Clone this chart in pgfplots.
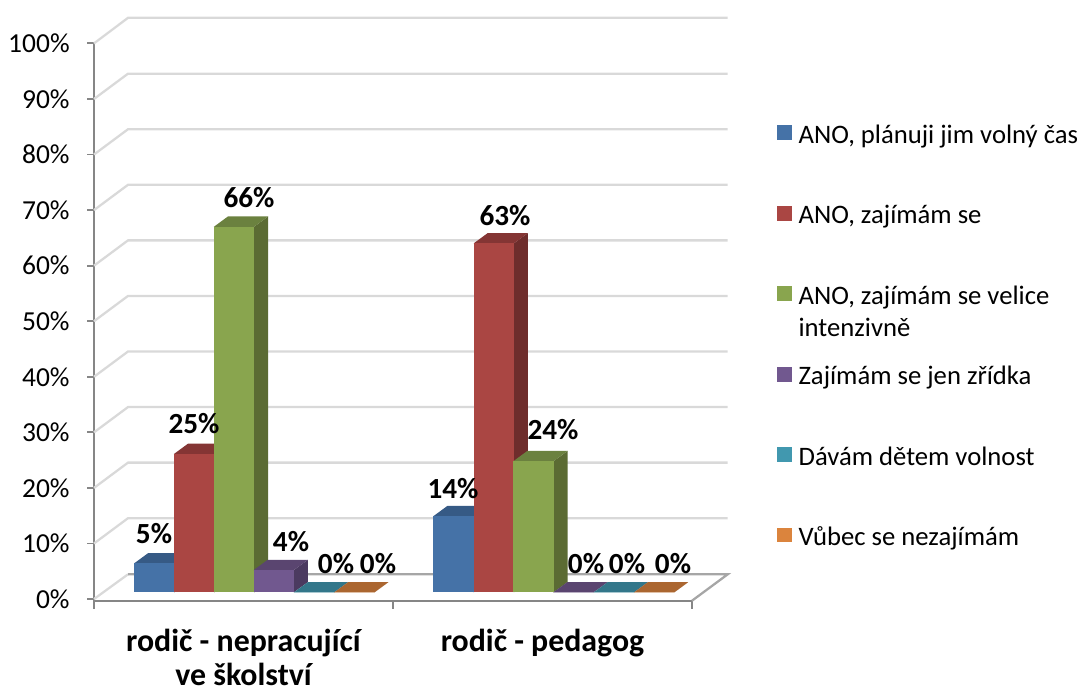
\documentclass[border=0pt]{standalone}
\usepackage{pgfplots}
\pgfplotsset{compat=1.18}
\usepackage{fontspec}
\setmainfont{Carlito}
\definecolor{axisgray}{HTML}{868686}
\definecolor{floorgray}{HTML}{A6A6A6}
\definecolor{gridgray}{HTML}{D9D9D9}
\definecolor{bluef}{HTML}{4572A7}\definecolor{bluet}{HTML}{365A85}\definecolor{blues}{HTML}{2F4E73}
\definecolor{redf}{HTML}{AA4643}\definecolor{redt}{HTML}{843534}\definecolor{reds}{HTML}{6E2D2C}
\definecolor{greenf}{HTML}{89A54E}\definecolor{greent}{HTML}{6B813F}\definecolor{greens}{HTML}{5B6B33}
\definecolor{purplef}{HTML}{71588F}\definecolor{purplet}{HTML}{5A4570}\definecolor{purples}{HTML}{4B3A60}
\definecolor{tealf}{HTML}{4198AF}\definecolor{tealt}{HTML}{33778A}\definecolor{teals}{HTML}{2A6272}
\definecolor{orangef}{HTML}{DB843D}\definecolor{oranget}{HTML}{AB6630}\definecolor{oranges}{HTML}{8E5528}
% one 3-D column: left edge (px-scale x), value (percent), colour stem
\newcommand{\column}[3]{%
  \pgfmathsetmacro{\xa}{#1}\pgfmathsetmacro{\xb}{#1+40.2}%
  \pgfmathsetmacro{\xc}{#1+54.2}\pgfmathsetmacro{\xd}{#1+14}%
  \pgfmathsetmacro{\yb}{1.2}\pgfmathsetmacro{\yt}{1.2+#2}%
  \pgfmathsetmacro{\ybb}{1.2+1.85}\pgfmathsetmacro{\ytb}{1.2+#2+1.85}%
  \edef\temp{\noexpand\addplot[fill=#3s,draw=none,forget plot] coordinates {(\xb,\yb) (\xc,\ybb) (\xc,\ytb) (\xb,\yt)} --cycle;
    \noexpand\addplot[fill=#3t,draw=none,forget plot] coordinates {(\xa,\yt) (\xb,\yt) (\xc,\ytb) (\xd,\ytb)} --cycle;
    \noexpand\addplot[fill=#3f,draw=none,forget plot] coordinates {(\xa,\yb) (\xb,\yb) (\xb,\yt) (\xa,\yt)} --cycle;}%
  \temp}
\newcommand{\gridlevel}[2]{\addplot[gridgray,line width=1.7pt,forget plot] coordinates {(94,#1) (128,#2) (727.7,#2)};}
\tikzset{dl/.style={font=\fontsize{21.9pt}{24pt}\selectfont\bfseries,inner sep=0pt}}
\begin{document}
\begin{tikzpicture}
\path[use as bounding box] (0,0) rectangle (810pt,517.5pt);
\begin{axis}[
  at={(70.5pt,66.975pt)}, anchor=south west,
  scale only axis, width=448.5pt, height=417.975pt,
  xmin=94, xmax=692, ymin=-0.3, ymax=100, clip=false,
  axis x line*=bottom, axis y line*=left,
  axis line style={axisgray,line width=1.8pt,-},
  tick align=outside,
  ytick={0,10,...,100},
  yticklabels={0\%,10\%,20\%,30\%,40\%,50\%,60\%,70\%,80\%,90\%,100\%},
  yticklabel style={font=\fontsize{20.6pt}{22pt}\selectfont,xshift=-9.5pt},
  major y tick style={axisgray,line width=1.4pt},
  major tick length=5.25pt,
  xtick={243.5,542.5},
  xticklabels={{rodič - nepracující\\ve školství},{rodič - pedagog}},
  xticklabel style={font=\fontsize{23.9pt}{25.4pt}\selectfont\bfseries,align=center,yshift=-12.8pt},
  major x tick style={draw=none},
  minor xtick={94,393,692},
  minor tick length=6pt,
  minor x tick style={axisgray,line width=1.4pt},
  legend style={at={(axis cs:777,86.2)},anchor=north west,draw=none,fill=none,inner sep=0pt,
    font=\fontsize{20pt}{24.5pt}\selectfont,
    row sep=41.7pt,
    nodes={inner sep=0pt},
    /tikz/every odd column/.append style={column sep=5pt}},
  legend cell align=left,
  legend image code/.code={\fill[#1] (0,-5.5pt) rectangle (11pt,5.5pt);},
]
\addlegendimage{fill=bluef,draw=none}\addlegendentry{\strut ANO, plánuji jim volný čas}
\addlegendimage{fill=redf,draw=none}\addlegendentry{\strut ANO, zajímám se}
\addlegendimage{fill=greenf,draw=none}\addlegendentry{\strut\smash{\begin{tabular}[t]{@{}l@{}}ANO, zajímám se velice\\intenzivně\end{tabular}}}
\addlegendimage{fill=purplef,draw=none}\addlegendentry{\strut Zajímám se jen zřídka}
\addlegendimage{fill=tealf,draw=none}\addlegendentry{\strut Dávám dětem volnost}
\addlegendimage{fill=orangef,draw=none}\addlegendentry{\strut Vůbec se nezajímám}
\gridlevel{10}{14.55}\gridlevel{20}{24.55}\gridlevel{30}{34.55}\gridlevel{40}{44.55}
\gridlevel{50}{54.55}\gridlevel{60}{64.55}\gridlevel{70}{74.55}\gridlevel{80}{84.55}
\gridlevel{90}{94.55}\gridlevel{100}{104.6}
\addplot[gridgray,line width=1.7pt,forget plot] coordinates {(94,0) (128,4.45)};
\addplot[floorgray,line width=1.7pt,forget plot] coordinates {(128,4.45) (727.7,4.45) (692,-0.3)};
% rodič - nepracující ve školství
\column{134}{5.2}{blue}
\column{173.9}{24.9}{red}
\column{213.9}{65.8}{green}
\column{253.6}{4.0}{purple}
\column{293.9}{0}{teal}
\column{334.2}{0}{orange}
% rodič - pedagog
\column{433.3}{13.7}{blue}
\column{473.6}{62.8}{red}
\column{513.3}{23.6}{green}
\column{553.3}{0}{purple}
\column{593.7}{0}{teal}
\column{634}{0}{orange}
\node[dl] at (axis cs:154,11.7) {5\%};
\node[dl] at (axis cs:194,31.5) {25\%};
\node[dl] at (axis cs:249,72.2) {66\%};
\node[dl] at (axis cs:291,10.3) {4\%};
\node[dl] at (axis cs:336,6.4) {0\%};
\node[dl] at (axis cs:378,6.4) {0\%};
\node[dl] at (axis cs:453,19.9) {14\%};
\node[dl] at (axis cs:505,69) {63\%};
\node[dl] at (axis cs:553,30.5) {24\%};
\node[dl] at (axis cs:586,6.4) {0\%};
\node[dl] at (axis cs:627,6.4) {0\%};
\node[dl] at (axis cs:673,6.4) {0\%};
\end{axis}
\end{tikzpicture}
\end{document}
